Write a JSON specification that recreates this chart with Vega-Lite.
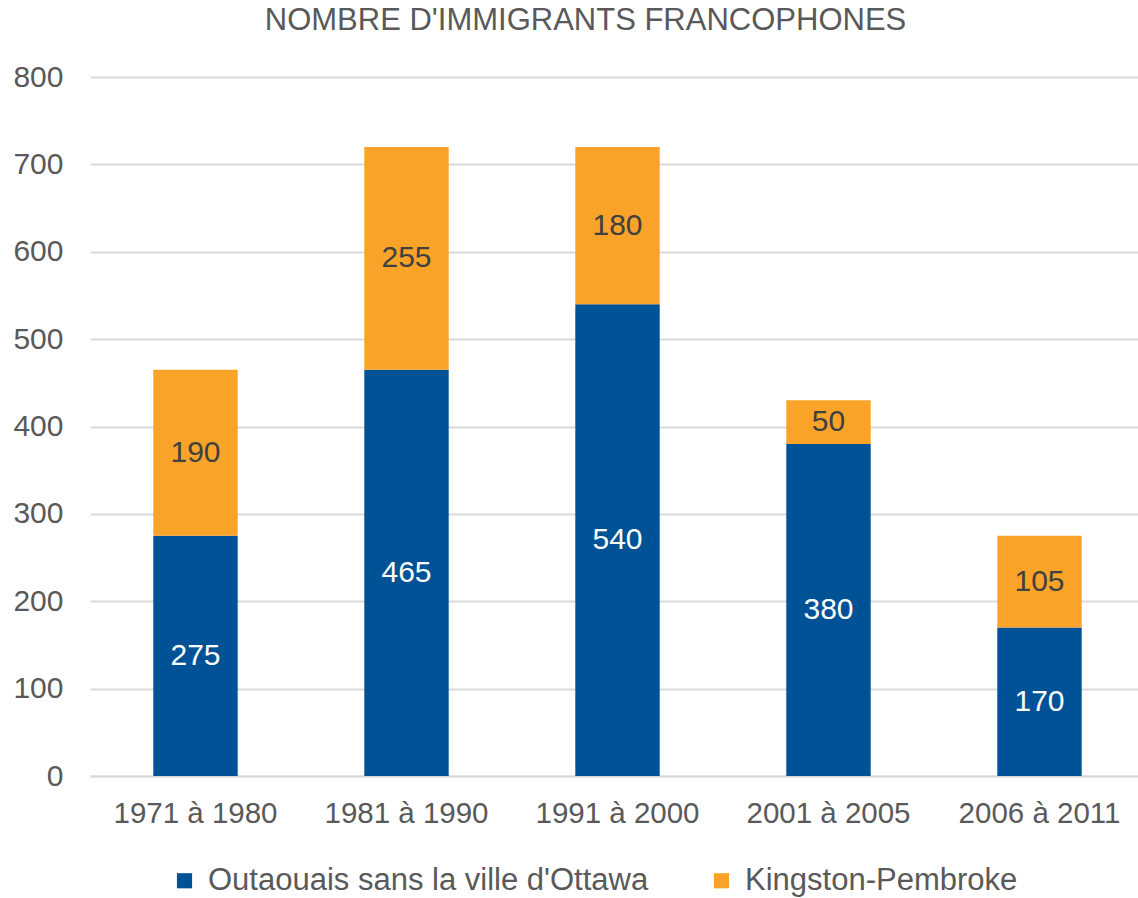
{
  "$schema": "https://vega.github.io/schema/vega-lite/v6.json",
  "autosize": "none",
  "width": 1055,
  "height": 699,
  "padding": {"left": 90, "top": 77, "right": 0, "bottom": 122},
  "background": "white",
  "config": {
    "font": "Liberation Sans",
    "view": {"stroke": null}
  },
  "title": {
    "text": "NOMBRE D'IMMIGRANTS FRANCOPHONES",
    "fontSize": 31,
    "font": "Liberation Sans",
    "fontWeight": "normal",
    "color": "#595959",
    "anchor": "middle",
    "dx": -32,
    "offset": 25
  },
  "data": {
    "values": [
      {"periode": "1971 à 1980", "region": "Outaouais sans la ville d'Ottawa", "ordre": 1, "valeur": 275},
      {"periode": "1971 à 1980", "region": "Kingston-Pembroke", "ordre": 2, "valeur": 190},
      {"periode": "1981 à 1990", "region": "Outaouais sans la ville d'Ottawa", "ordre": 1, "valeur": 465},
      {"periode": "1981 à 1990", "region": "Kingston-Pembroke", "ordre": 2, "valeur": 255},
      {"periode": "1991 à 2000", "region": "Outaouais sans la ville d'Ottawa", "ordre": 1, "valeur": 540},
      {"periode": "1991 à 2000", "region": "Kingston-Pembroke", "ordre": 2, "valeur": 180},
      {"periode": "2001 à 2005", "region": "Outaouais sans la ville d'Ottawa", "ordre": 1, "valeur": 380},
      {"periode": "2001 à 2005", "region": "Kingston-Pembroke", "ordre": 2, "valeur": 50},
      {"periode": "2006 à 2011", "region": "Outaouais sans la ville d'Ottawa", "ordre": 1, "valeur": 170},
      {"periode": "2006 à 2011", "region": "Kingston-Pembroke", "ordre": 2, "valeur": 105}
    ]
  },
  "transform": [
    {"stack": "valeur", "groupby": ["periode"], "sort": [{"field": "ordre", "order": "ascending"}], "as": ["v0", "v1"]},
    {"calculate": "(datum.v0 + datum.v1) / 2", "as": "vmid"}
  ],
  "encoding": {
    "x": {
      "field": "periode",
      "type": "nominal",
      "sort": null,
      "title": null,
      "scale": {"paddingInner": 0.6, "paddingOuter": 0.3},
      "axis": {
        "labelAngle": 0,
        "labelFontSize": 29.5,
        "labelColor": "#595959",
        "labelPadding": 23,
        "ticks": false,
        "domainColor": "#D9D9D9",
        "domainWidth": 2
      }
    }
  },
  "layer": [
    {
      "mark": {"type": "bar"},
      "encoding": {
        "y": {
          "field": "v0",
          "type": "quantitative",
          "title": null,
          "scale": {"domain": [0, 800]},
          "axis": {
            "values": [0, 100, 200, 300, 400, 500, 600, 700, 800],
            "labelFontSize": 30,
            "labelColor": "#595959",
            "labelPadding": 27,
            "ticks": false,
            "domain": false,
            "gridColor": "#D9D9D9",
            "gridWidth": 2
          }
        },
        "y2": {"field": "v1"},
        "color": {
          "field": "region",
          "type": "nominal",
          "sort": ["Outaouais sans la ville d'Ottawa", "Kingston-Pembroke"],
          "scale": {
            "domain": ["Outaouais sans la ville d'Ottawa", "Kingston-Pembroke"],
            "range": ["#005296", "#F9A328"]
          },
          "legend": {
            "title": null,
            "orient": "none",
            "direction": "horizontal",
            "legendX": 79,
            "legendY": 788,
            "symbolType": "square",
            "symbolSize": 230,
            "symbolStrokeWidth": 0,
            "labelFontSize": 31,
            "labelColor": "#595959",
            "labelOffset": 8,
            "columnPadding": 57,
            "labelLimit": 600
          }
        }
      }
    },
    {
      "mark": {"type": "text", "fontSize": 30, "baseline": "middle", "align": "center"},
      "encoding": {
        "y": {"field": "vmid", "type": "quantitative"},
        "text": {"field": "valeur", "type": "quantitative"},
        "color": {
          "condition": {"test": "datum.ordre === 1", "value": "white"},
          "value": "#404040"
        }
      }
    }
  ]
}
